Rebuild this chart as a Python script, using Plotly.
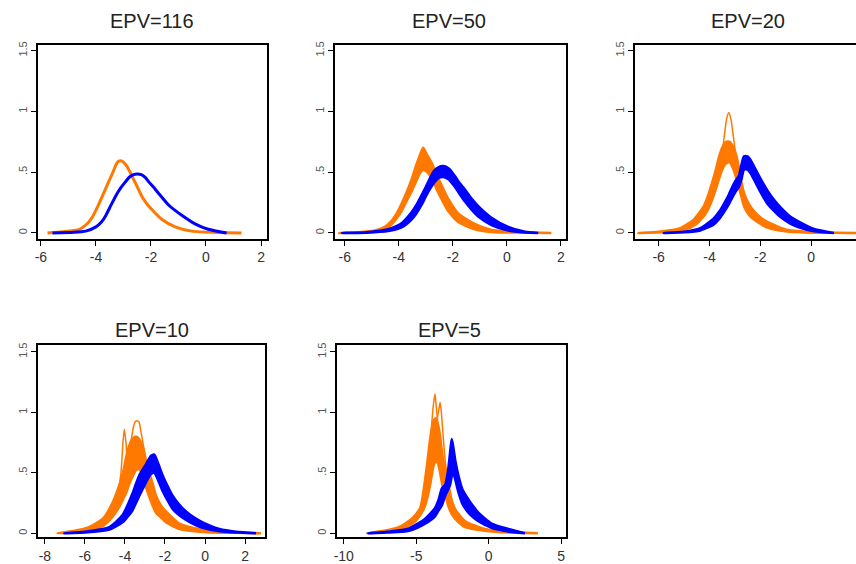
import plotly.graph_objects as go

W, H = 856, 564
ORANGE = "#FF7800"
BLUE = "#0000FF"
FONT = "Liberation Sans, Arial, sans-serif"

titles = ["EPV=116", "EPV=50", "EPV=20", "EPV=10", "EPV=5"]
y_tickvals = [0, 0.5, 1, 1.5]
y_ticktext = ["0", ".5", "1", "1.5"]
x_ticks = [[-6, -4, -2, 0, 2], [-6, -4, -2, 0, 2], [-6, -4, -2, 0, 2],
           [-8, -6, -4, -2, 0, 2], [-10, -5, 0, 5]]

# ---- Panel 1 (EPV=116): single curves
p1_or_x = [-5.76, -5.2, -4.6, -4.3, -4.13, -3.95, -3.77, -3.58, -3.4, -3.25, -3.17, -3.05, -2.93, -2.78,
           -2.63, -2.48, -2.33, -2.15, -1.96, -1.6, -1.12, -0.52, 0.45, 1.29]
p1_or_y = [0, 0.01, 0.03, 0.08, 0.13, 0.21, 0.30, 0.40, 0.49, 0.57, 0.59, 0.59, 0.565, 0.51,
           0.44, 0.37, 0.30, 0.24, 0.19, 0.11, 0.05, 0.015, 0.003, 0]
p1_bl_x = [-5.58, -4.8, -4.37, -4.0, -3.8, -3.65, -3.47, -3.29, -3.1, -2.93, -2.78, -2.63, -2.5, -2.35,
           -2.2, -2.08, -1.9, -1.72, -1.36, -0.88, -0.4, 0.08, 0.75]
p1_bl_y = [0, 0.005, 0.015, 0.05, 0.09, 0.14, 0.22, 0.30, 0.37, 0.42, 0.46, 0.48, 0.485, 0.48,
           0.455, 0.42, 0.375, 0.325, 0.23, 0.145, 0.075, 0.03, 0]

# ---- Panel 2 (EPV=50): bands
p2_or_x = [-6.2, -5.5, -4.9, -4.52, -4.27, -4.08, -3.9, -3.72, -3.53, -3.37, -3.22, -3.1, -2.95, -2.79,
           -2.66, -2.54, -2.35, -2.17, -1.8, -1.19, -0.57, 0.67, 1.65]
p2_or_lo = [0, 0.003, 0.01, 0.02, 0.07, 0.12, 0.18, 0.26, 0.34, 0.42, 0.49, 0.52, 0.50, 0.45,
            0.39, 0.33, 0.25, 0.18, 0.09, 0.03, 0.008, 0.002, 0]
p2_or_hi = [0, 0.006, 0.02, 0.05, 0.10, 0.16, 0.24, 0.33, 0.44, 0.55, 0.64, 0.70, 0.64, 0.58,
            0.51, 0.45, 0.36, 0.28, 0.16, 0.075, 0.025, 0.006, 0]
p2_bl_x = [-6.1, -5.2, -4.4, -3.9, -3.53, -3.35, -3.16, -3.0, -2.85, -2.7, -2.54, -2.35, -2.15, -1.93,
           -1.75, -1.56, -1.3, -1.06, -0.57, 0.05, 0.67, 1.16]
p2_bl_lo = [0, 0.002, 0.015, 0.045, 0.11, 0.16, 0.23, 0.30, 0.36, 0.41, 0.45, 0.46, 0.44, 0.38,
            0.32, 0.26, 0.19, 0.135, 0.065, 0.02, 0.004, 0]
p2_bl_hi = [0, 0.006, 0.03, 0.08, 0.17, 0.23, 0.31, 0.38, 0.45, 0.51, 0.54, 0.55, 0.53, 0.47,
            0.41, 0.36, 0.28, 0.22, 0.125, 0.05, 0.01, 0]

# ---- Panel 3 (EPV=20)
p3_or_x = [-6.8, -6.0, -5.14, -4.62, -4.22, -4.05, -3.9, -3.75, -3.63, -3.5, -3.35, -3.2, -3.05, -2.9,
           -2.77, -2.64, -2.45, -2.25, -1.95, -1.72, -0.93, 0.3, 1.8]
p3_or_lo = [0, 0.005, 0.02, 0.07, 0.14, 0.2, 0.27, 0.36, 0.44, 0.52, 0.57, 0.58, 0.52, 0.42,
            0.32, 0.22, 0.15, 0.11, 0.07, 0.045, 0.012, 0.002, 0]
p3_or_hi = [0, 0.01, 0.04, 0.11, 0.22, 0.31, 0.41, 0.52, 0.62, 0.70, 0.75, 0.75, 0.70, 0.60,
            0.45, 0.33, 0.24, 0.18, 0.12, 0.09, 0.025, 0.006, 0]
p3_sp_x = [-6.5, -5.0, -4.5, -4.1, -3.8, -3.6, -3.45, -3.33, -3.24, -3.15, -3.05, -2.9, -2.7, -2.4,
           -2.0, -1.2, 0.5]
p3_sp_y = [0, 0.02, 0.07, 0.17, 0.33, 0.52, 0.74, 0.93, 0.99, 0.93, 0.78, 0.55, 0.33, 0.18,
           0.09, 0.02, 0]
p3_bl_x = [-5.8, -5.0, -4.36, -3.83, -3.6, -3.43, -3.25, -3.1, -2.97, -2.84, -2.74, -2.64, -2.5, -2.38,
           -2.25, -2.0, -1.72, -1.45, -1.2, -0.85, -0.54, 0.12, 0.9]
p3_bl_lo = [0, 0.005, 0.02, 0.07, 0.12, 0.17, 0.23, 0.29, 0.34, 0.38, 0.44, 0.52, 0.52, 0.49,
            0.44, 0.34, 0.24, 0.18, 0.13, 0.08, 0.05, 0.013, 0]
p3_bl_hi = [0, 0.01, 0.04, 0.12, 0.18, 0.24, 0.31, 0.38, 0.43, 0.47, 0.56, 0.63, 0.63, 0.60,
            0.55, 0.45, 0.35, 0.27, 0.21, 0.14, 0.10, 0.033, 0]

# ---- Panel 4 (EPV=10)
p4_or_x = [-7.37, -6.5, -5.8, -5.1, -4.6, -4.28, -4.1, -3.95, -3.8, -3.62, -3.45, -3.3, -3.12, -2.95,
           -2.78, -2.6, -2.45, -2.2, -1.95, -1.28, -0.12, 1.5, 2.8]
p4_or_lo = [0, 0.01, 0.03, 0.06, 0.14, 0.22, 0.28, 0.33, 0.40, 0.47, 0.52, 0.53, 0.48, 0.38,
            0.30, 0.22, 0.17, 0.13, 0.09, 0.035, 0.01, 0.003, 0]
p4_or_hi = [0, 0.02, 0.05, 0.12, 0.26, 0.40, 0.50, 0.62, 0.72, 0.78, 0.80, 0.78, 0.72, 0.60,
            0.50, 0.40, 0.31, 0.23, 0.18, 0.08, 0.03, 0.008, 0]
p4_sp1_x = [-7.0, -5.5, -4.8, -4.4, -4.2, -4.1, -4.03, -3.95, -3.85, -3.7, -3.5, -3.2, -2.9, -2.5,
            -2.0, -1.0, 1.0]
p4_sp1_y = [0, 0.03, 0.12, 0.28, 0.5, 0.75, 0.86, 0.75, 0.55, 0.52, 0.6, 0.55, 0.4, 0.25,
            0.13, 0.04, 0]
p4_sp2_x = [-7.0, -5.5, -4.8, -4.4, -4.0, -3.75, -3.6, -3.5, -3.4, -3.3, -3.2, -3.05, -2.85, -2.6,
            -2.3, -1.8, -0.8, 1.5]
p4_sp2_y = [0, 0.03, 0.1, 0.22, 0.45, 0.7, 0.86, 0.92, 0.93, 0.92, 0.84, 0.70, 0.52, 0.36,
            0.22, 0.11, 0.03, 0]
p4_bl_x = [-7.03, -6.0, -4.78, -4.12, -3.85, -3.62, -3.45, -3.28, -3.1, -2.95, -2.82, -2.7, -2.53, -2.35,
           -2.12, -1.9, -1.62, -1.3, -0.95, -0.5, -0.12, 0.72, 1.55, 2.55]
p4_bl_lo = [0, 0.005, 0.03, 0.09, 0.14, 0.19, 0.25, 0.31, 0.37, 0.42, 0.46, 0.49, 0.50, 0.44,
            0.35, 0.28, 0.20, 0.15, 0.11, 0.07, 0.045, 0.016, 0.006, 0]
p4_bl_hi = [0, 0.012, 0.05, 0.15, 0.24, 0.33, 0.41, 0.48, 0.53, 0.57, 0.61, 0.64, 0.65, 0.58,
            0.48, 0.40, 0.31, 0.24, 0.18, 0.125, 0.09, 0.035, 0.012, 0]

# ---- Panel 5 (EPV=5)
p5_or_x = [-8.4, -7.2, -6.2, -5.3, -4.72, -4.38, -4.2, -4.04, -3.9, -3.8, -3.65, -3.5, -3.35, -3.2,
           -3.0, -2.77, -2.55, -2.32, -1.63, -0.25, 1.5, 3.4]
p5_or_lo = [0, 0.01, 0.03, 0.08, 0.15, 0.23, 0.31, 0.40, 0.50, 0.56, 0.60, 0.58, 0.50, 0.40,
            0.32, 0.22, 0.16, 0.12, 0.05, 0.02, 0.005, 0]
p5_or_hi = [0, 0.02, 0.05, 0.12, 0.21, 0.45, 0.62, 0.78, 0.88, 0.93, 0.95, 0.90, 0.80, 0.65,
            0.52, 0.40, 0.27, 0.20, 0.10, 0.035, 0.01, 0]
p5_sp1_x = [-8.0, -6.0, -5.0, -4.5, -4.2, -4.0, -3.85, -3.75, -3.7, -3.62, -3.5, -3.3, -3.1, -2.9,
            -2.6, -2.2, -1.5, 0.0, 2.5]
p5_sp1_y = [0, 0.04, 0.12, 0.30, 0.55, 0.80, 1.02, 1.12, 1.15, 1.05, 0.9, 0.7, 0.5, 0.36,
            0.25, 0.16, 0.08, 0.02, 0]
p5_sp2_x = [-8.0, -6.0, -5.0, -4.5, -4.1, -3.85, -3.65, -3.5, -3.4, -3.35, -3.28, -3.15, -3.0, -2.8,
            -2.5, -2.1, -1.4, 0.0, 2.5]
p5_sp2_y = [0, 0.03, 0.10, 0.22, 0.45, 0.70, 0.88, 0.98, 1.05, 1.08, 1.02, 0.82, 0.6, 0.42,
            0.26, 0.16, 0.08, 0.02, 0]
p5_bl_x = [-8.3, -7.0, -5.5, -4.38, -3.7, -3.45, -3.23, -3.0, -2.8, -2.66, -2.55, -2.45, -2.3, -2.09,
           -1.8, -1.4, -1.05, -0.71, 0.2, 1.35, 2.5]
p5_bl_lo = [0, 0.005, 0.02, 0.08, 0.14, 0.19, 0.23, 0.31, 0.36, 0.40, 0.47, 0.50, 0.44, 0.34,
            0.24, 0.17, 0.13, 0.10, 0.045, 0.015, 0]
p5_bl_hi = [0, 0.012, 0.04, 0.12, 0.21, 0.28, 0.37, 0.40, 0.52, 0.67, 0.78, 0.72, 0.60, 0.48,
            0.36, 0.28, 0.22, 0.17, 0.08, 0.035, 0]

# layout geometry (pixels)
panels = [
    dict(x0=35, x1=265, y0=42, y1=238, xr=[-6.11, 2.22], yr=[-0.049, 1.549], tx=150, ty=18),
    dict(x0=333, x1=565, y0=42, y1=238, xr=[-6.37, 2.19], yr=[-0.049, 1.549], tx=448, ty=18),
    dict(x0=634, x1=856, y0=42, y1=238, xr=[-6.94, 1.77], yr=[-0.049, 1.549], tx=748, ty=18),
    dict(x0=35, x1=263, y0=345, y1=539, xr=[-8.35, 3.0], yr=[-0.033, 1.557], tx=150, ty=330),
    dict(x0=335, x1=565, y0=345, y1=539, xr=[-10.48, 5.34], yr=[-0.033, 1.557], tx=448, ty=330),
]

fig = go.Figure()


def line(i, x, y, color, width=2.5):
    ax = "" if i == 0 else str(i + 1)
    fig.add_trace(go.Scatter(x=x, y=y, mode="lines", line=dict(color=color, width=width, shape="spline", smoothing=0.6),
                             xaxis="x" + ax, yaxis="y" + ax, showlegend=False, hoverinfo="skip"))


def band(i, x, lo, hi, color):
    ax = "" if i == 0 else str(i + 1)
    fig.add_trace(go.Scatter(x=list(x) + list(x)[::-1], y=list(lo) + list(hi)[::-1], mode="lines",
                             fill="toself", fillcolor=color,
                             line=dict(color=color, width=2.5, shape="spline", smoothing=0.6),
                             xaxis="x" + ax, yaxis="y" + ax, showlegend=False, hoverinfo="skip"))


line(0, p1_or_x, p1_or_y, ORANGE, 3)
line(0, p1_bl_x, p1_bl_y, BLUE, 3)

band(1, p2_or_x, p2_or_lo, p2_or_hi, ORANGE)
band(1, p2_bl_x, p2_bl_lo, p2_bl_hi, BLUE)

band(2, p3_or_x, p3_or_lo, p3_or_hi, ORANGE)
line(2, p3_sp_x, p3_sp_y, ORANGE, 1.5)
band(2, p3_bl_x, p3_bl_lo, p3_bl_hi, BLUE)

band(3, p4_or_x, p4_or_lo, p4_or_hi, ORANGE)
line(3, p4_sp1_x, p4_sp1_y, ORANGE, 1.5)
line(3, p4_sp2_x, p4_sp2_y, ORANGE, 1.5)
band(3, p4_bl_x, p4_bl_lo, p4_bl_hi, BLUE)

band(4, p5_or_x, p5_or_lo, p5_or_hi, ORANGE)
line(4, p5_sp1_x, p5_sp1_y, ORANGE, 1.5)
line(4, p5_sp2_x, p5_sp2_y, ORANGE, 1.5)
band(4, p5_bl_x, p5_bl_lo, p5_bl_hi, BLUE)

layout = dict(width=W, height=H, margin=dict(l=0, r=0, t=0, b=0),
              paper_bgcolor="white", plot_bgcolor="white", showlegend=False)
annotations = []
for i, p in enumerate(panels):
    ax = "" if i == 0 else str(i + 1)
    layout["xaxis" + ax] = dict(
        domain=[p["x0"] / W, min(p["x1"] / W, 1.0)], range=p["xr"], anchor="y" + ax,
        tickvals=x_ticks[i], ticktext=[str(v) for v in x_ticks[i]],
        showline=True, linecolor="black", linewidth=1.5, mirror=True,
        ticks="outside", ticklen=5, tickwidth=1, tickcolor="black",
        showgrid=False, zeroline=False,
        tickfont=dict(family=FONT, size=14, color="#333"))
    layout["yaxis" + ax] = dict(
        domain=[1 - p["y1"] / H, 1 - p["y0"] / H], range=p["yr"], anchor="x" + ax,
        tickvals=y_tickvals, ticktext=y_ticktext, tickangle=-90,
        showline=True, linecolor="black", linewidth=1.5, mirror=(i != 2),
        ticks="outside", ticklen=5, tickwidth=1, tickcolor="black",
        showgrid=False, zeroline=False,
        tickfont=dict(family=FONT, size=11, color="#555"))
    annotations.append(dict(text=titles[i], x=p["tx"] / W, y=1 - p["ty"] / H, xref="paper", yref="paper",
                            xanchor="center", yanchor="middle", showarrow=False,
                            font=dict(family=FONT, size=20, color="#222")))
layout["annotations"] = annotations
fig.update_layout(**layout)
fig.write_html("out.html")
